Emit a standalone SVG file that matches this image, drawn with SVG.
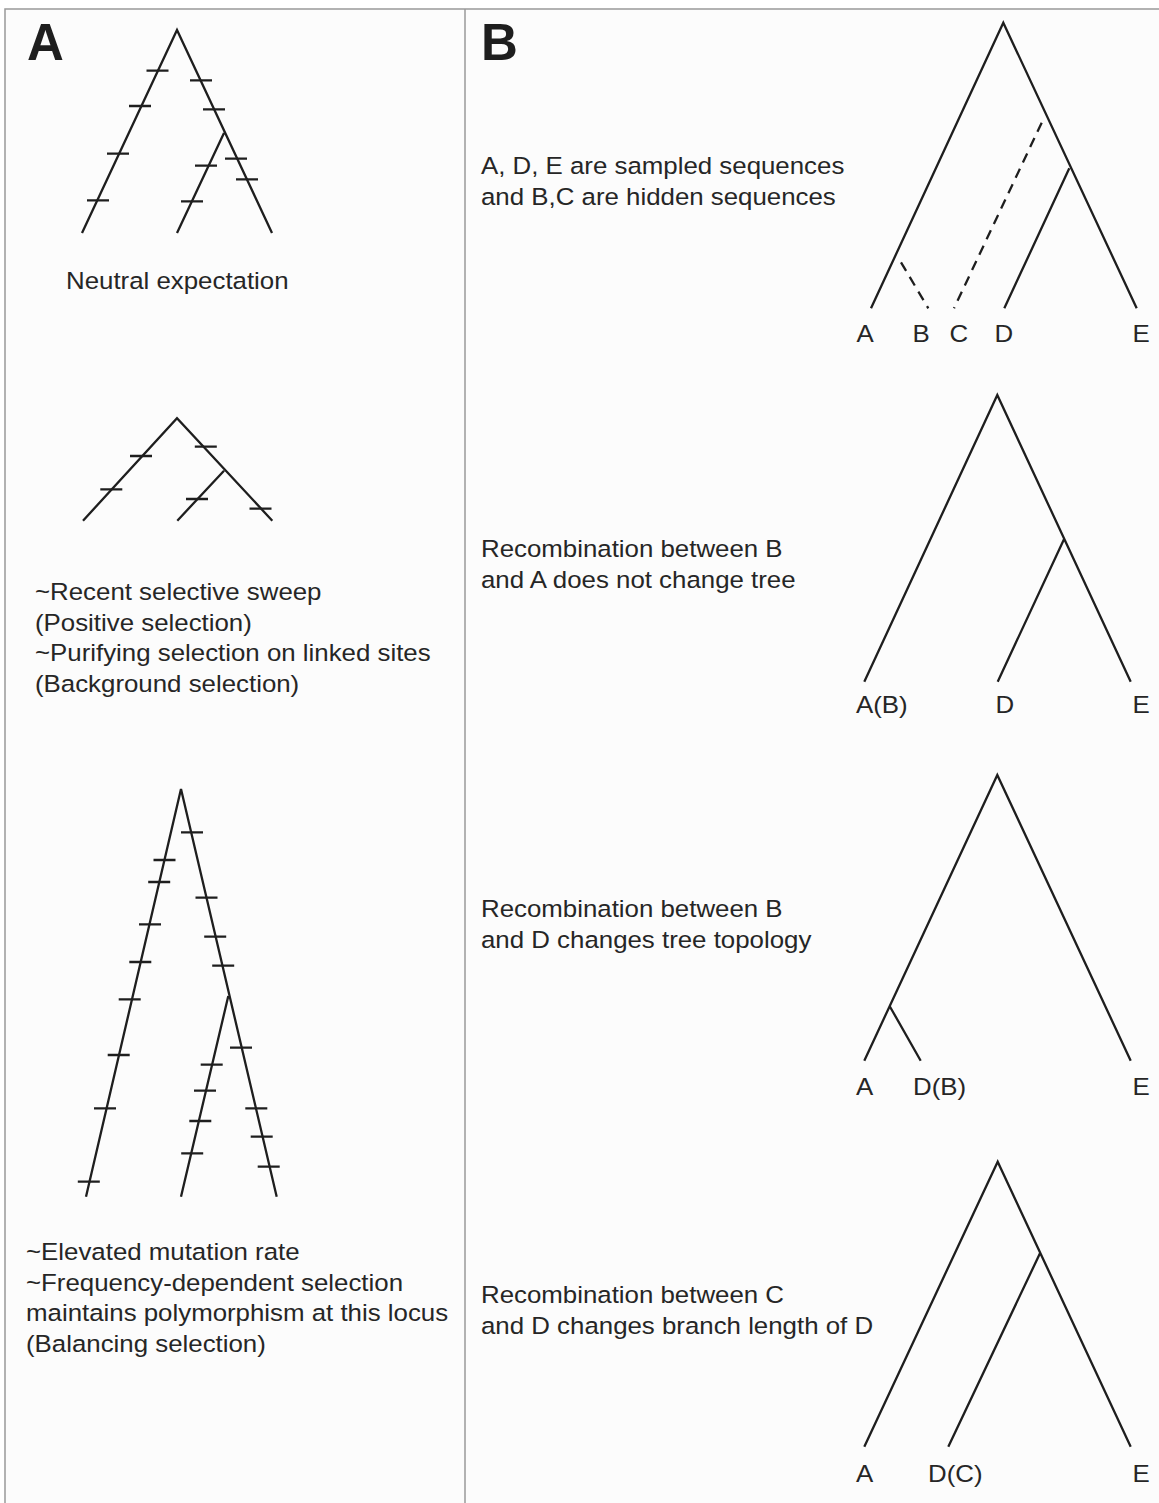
<svg xmlns="http://www.w3.org/2000/svg" width="1159" height="1503" viewBox="0 0 1159 1503">
<style>
.t{font-family:"Liberation Sans",Arial,sans-serif;font-size:23.5px;fill:#262626}
.lab{font-family:"Liberation Sans",Arial,sans-serif;font-size:51px;font-weight:bold;fill:#1e1e1e}
.br{fill:none;stroke:#1e1e1e;stroke-width:2.3;stroke-linecap:butt;stroke-linejoin:miter}
.tk{fill:none;stroke:#1e1e1e;stroke-width:2.3}
.ds{fill:none;stroke:#1e1e1e;stroke-width:2.3;stroke-dasharray:10 7}
.frame{fill:none;stroke:#999;stroke-width:1.5}
</style>
<rect x="0" y="0" width="1159" height="1503" fill="#ffffff"/>
<rect x="5" y="9" width="1154" height="1494" fill="#fcfcfc"/>
<g id="frame">
<path class="frame" d="M5 1503 V9 H1159 M465 9 V1503"/>
</g>
<g id="panel-labels">
<text class="lab" x="27" y="60">A</text>
<text class="lab" x="481" y="60">B</text>
</g>
<g id="connectors">
<!-- Panel A tree 1 -->
<path class="br" d="M82 233 L177 30 L272 233 M177 233 L224 133"/>
<!-- Panel A tree 2 -->
<path class="br" d="M83 520.7 L177 418.3 L272.3 520.7 M177.3 520.7 L224 470.7"/>
<!-- Panel A tree 3 -->
<path class="br" d="M86 1196.7 L181 789 L276.7 1196.7 M181 1196.7 L228.3 996"/>
<!-- Panel B tree 1 -->
<path class="br" d="M871 308.3 L1003.3 22.7 L1136.7 308.3 M1004.3 308.3 L1069.3 168.3"/>
<path class="ds" d="M901 262.3 L928.3 308.3 M1041.7 122.7 L954 308.3"/>
<!-- Panel B tree 2 -->
<path class="br" d="M864.3 681.7 L997.3 395 L1130.7 681.7 M997.7 681.7 L1064 539.3"/>
<!-- Panel B tree 3 -->
<path class="br" d="M864.3 1060.7 L997.3 775 L1130.7 1060.7 M890 1006.7 L920.7 1060.7"/>
<!-- Panel B tree 4 -->
<path class="br" d="M864.3 1446.7 L997.7 1161.7 L1130.7 1446.7 M948.3 1446.7 L1040 1253.3"/>
</g>
<g id="mutations-neutral">
<path class="tk" d="M146.5 70.7h22 M129 106h22 M107 153.7h22 M87 200.3h22 M190 80.3h22 M203 109.3h22 M225 158.7h22 M236 179.3h22 M195 165.7h22 M181 201.3h22"/>
</g>
<g id="mutations-reduced">
<path class="tk" d="M130 456h22 M100.3 489.3h22 M194.8 446.7h22 M186 499h22 M249.5 508.7h22"/>
</g>
<g id="mutations-elevated">
<path class="tk" d="M153.5 860h22 M148.2 882h22 M139 924.3h22 M129.3 962h22 M118.7 999.3h22 M107.7 1055h22 M94 1108.3h22 M77.8 1181.7h22 M181 832.3h22 M195.5 897.7h22 M204.2 936.7h22 M212.2 965.7h22 M230 1047.7h22 M245.3 1108.3h22 M250.7 1136.7h22 M257.7 1166.7h22 M200.7 1064.7h22 M194 1090.7h22 M189.3 1121h22 M181.2 1153.3h22"/>
</g>
<g id="text-neutral">
<text class="t" transform="translate(66 289) scale(1.1 1)">Neutral expectation</text>
</g>
<g id="text-reduced">
<text class="t" transform="translate(35 600) scale(1.1 1)">~Recent selective sweep</text>
<text class="t" transform="translate(35 630.5) scale(1.1 1)">(Positive selection)</text>
<text class="t" transform="translate(35 661) scale(1.1 1)">~Purifying selection on linked sites</text>
<text class="t" transform="translate(35 691.5) scale(1.1 1)">(Background selection)</text>
</g>
<g id="text-elevated">
<text class="t" transform="translate(26 1260) scale(1.1 1)">~Elevated mutation rate</text>
<text class="t" transform="translate(26 1290.7) scale(1.1 1)">~Frequency-dependent selection</text>
<text class="t" transform="translate(26 1321) scale(1.1 1)">maintains polymorphism at this locus</text>
<text class="t" transform="translate(26 1351.7) scale(1.1 1)">(Balancing selection)</text>
</g>
<g id="text-B1">
<text class="t" transform="translate(481 174.3) scale(1.1 1)">A, D, E are sampled sequences</text>
<text class="t" transform="translate(481 205) scale(1.1 1)">and B,C are hidden sequences</text>
<text class="t" transform="translate(856.5 341.7) scale(1.1 1)">A</text>
<text class="t" transform="translate(912.5 341.7) scale(1.1 1)">B</text>
<text class="t" transform="translate(949.5 341.7) scale(1.1 1)">C</text>
<text class="t" transform="translate(994.5 341.7) scale(1.1 1)">D</text>
<text class="t" transform="translate(1132.5 341.7) scale(1.1 1)">E</text>
</g>
<g id="text-B2">
<text class="t" transform="translate(481 557) scale(1.1 1)">Recombination between B</text>
<text class="t" transform="translate(481 588.3) scale(1.1 1)">and A does not change tree</text>
<text class="t" transform="translate(856 713.3) scale(1.1 1)">A(B)</text>
<text class="t" transform="translate(995.5 713.3) scale(1.1 1)">D</text>
<text class="t" transform="translate(1132.5 713.3) scale(1.1 1)">E</text>
</g>
<g id="text-B3">
<text class="t" transform="translate(481 917) scale(1.1 1)">Recombination between B</text>
<text class="t" transform="translate(481 948) scale(1.1 1)">and D changes tree topology</text>
<text class="t" transform="translate(856 1095) scale(1.1 1)">A</text>
<text class="t" transform="translate(913 1095) scale(1.1 1)">D(B)</text>
<text class="t" transform="translate(1132.5 1095) scale(1.1 1)">E</text>
</g>
<g id="text-B4">
<text class="t" transform="translate(481 1302.5) scale(1.1 1)">Recombination between C</text>
<text class="t" transform="translate(481 1334) scale(1.1 1)">and D changes branch length of D</text>
<text class="t" transform="translate(856 1481.7) scale(1.1 1)">A</text>
<text class="t" transform="translate(928 1481.7) scale(1.1 1)">D(C)</text>
<text class="t" transform="translate(1132.5 1481.7) scale(1.1 1)">E</text>
</g>
</svg>
